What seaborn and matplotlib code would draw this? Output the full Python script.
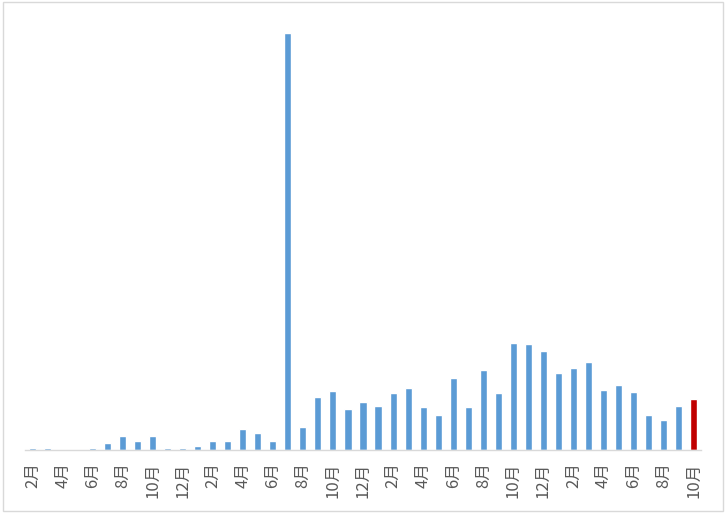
import numpy as np
import pandas as pd
import matplotlib
matplotlib.use("Agg")
import matplotlib.pyplot as plt
import matplotlib.transforms as mtransforms
from matplotlib.patches import Rectangle
import seaborn as sns

# monthly values, Feb of year 1 through Oct of year 4
months = [2, 3, 4, 5, 6, 7, 8, 9, 10, 11, 12,
          1, 2, 3, 4, 5, 6, 7, 8, 9, 10, 11, 12,
          1, 2, 3, 4, 5, 6, 7, 8, 9, 10, 11, 12,
          1, 2, 3, 4, 5, 6, 7, 8, 9, 10]
values = [2, 2, 0, 0, 2, 7, 14, 9, 14, 2, 2.5,
          4, 9, 9, 21, 17, 9, 418, 23, 53, 59, 41, 48,
          44, 57, 62, 43, 35, 72, 43, 80, 57, 107, 106, 99,
          77, 82, 88, 60, 65, 58, 35, 30, 44, 51]
tick_labels = ["2月", "4月", "6月", "8月", "10月", "12月",
               "2月", "4月", "6月", "8月", "10月", "12月",
               "2月", "4月", "6月", "8月", "10月", "12月",
               "2月", "4月", "6月", "8月", "10月"]

blue = "#5B9BD5"
red = "#C00000"

df = pd.DataFrame({"idx": range(len(values)), "month": months, "value": values})
colors = [blue] * (len(values) - 1) + [red]

sns.set_style("white")
plt.rcParams["font.family"] = ["Noto Sans CJK JP", "DejaVu Sans"]

fig = plt.figure(figsize=(7.26, 5.14), dpi=100)
ax = fig.add_axes([25 / 726, 64 / 514, 676 / 726, 420 / 514])

sns.barplot(data=df, x="idx", y="value", hue="idx", palette=colors,
            legend=False, width=0.47, saturation=1, ax=ax)

ax.set_xlim(-0.5, len(values) - 0.5)
ax.set_ylim(0, 421)
ax.set_xticks(range(0, len(values), 2))
ax.set_xticklabels(tick_labels, rotation=90, fontsize=12, color="#595959",
                   va="top", ha="center")
offset = mtransforms.ScaledTranslation(3.5 / 100, 0, fig.dpi_scale_trans)
for lbl in ax.get_xticklabels():
    lbl.set_transform(lbl.get_transform() + offset)
ax.tick_params(axis="x", length=0, pad=9)
ax.set_yticks([])
ax.set_xlabel("")
ax.set_ylabel("")
for side in ["left", "right", "top"]:
    ax.spines[side].set_visible(False)
ax.spines["bottom"].set_color("#D9D9D9")
ax.spines["bottom"].set_linewidth(1)
ax.patch.set_alpha(0)

# chart area border
fig.patches.append(Rectangle((3 / 726, 3 / 514), 720 / 726, 509 / 514,
                             transform=fig.transFigure, fill=False,
                             edgecolor="#D9D9D9", linewidth=1))

fig.savefig("out.png", dpi=100)
plt.close(fig)
